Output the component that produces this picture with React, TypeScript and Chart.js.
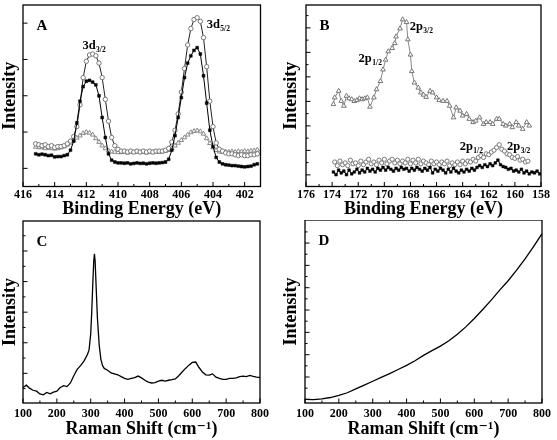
import React, { useEffect, useRef } from "react";
import { Chart, registerables } from "chart.js";

Chart.register(...registerables);

const FONT = '"Liberation Serif", "Times New Roman", "DejaVu Serif", serif';

// ---------- Panel A : XPS 3d region ----------
const aEnergy = [415.2, 415.0, 414.8, 414.6, 414.4, 414.2, 414.0, 413.8, 413.6, 413.4, 413.2, 413.0, 412.8, 412.6, 412.4, 412.2, 412.0, 411.8, 411.6, 411.4, 411.2, 411.0, 410.8, 410.6, 410.4, 410.2, 410.0, 409.8, 409.6, 409.4, 409.2, 409.0, 408.8, 408.6, 408.4, 408.2, 408.0, 407.8, 407.6, 407.4, 407.2, 407.0, 406.8, 406.6, 406.4, 406.2, 406.0, 405.8, 405.6, 405.4, 405.2, 405.0, 404.8, 404.6, 404.4, 404.2, 404.0, 403.8, 403.6, 403.4, 403.2, 403.0, 402.8, 402.6, 402.4, 402.2, 402.0, 401.8, 401.6, 401.4, 401.2];
const aCircles = [23.5, 23, 22.5, 23, 22, 22.5, 21.5, 22, 22, 22.5, 23.5, 25, 27.5, 33, 45, 60, 69, 72.5, 73, 72, 68, 60, 48, 36, 27, 22.5, 20.5, 19.5, 19.5, 19, 19.5, 19, 19.5, 19, 19.5, 19, 19.5, 19, 19.5, 19.5, 19.5, 20, 21, 24.5, 31, 40, 52, 65, 78, 87, 92, 93, 91, 82, 66, 47, 33, 24, 20.5, 19.5, 18.5, 18, 18, 17.5, 17, 17.5, 17, 17, 17.5, 17.5, 18];
const aSquares = [18, 17.5, 17.8, 17.5, 17, 17.2, 16.3, 16.5, 16.5, 17, 17.5, 20, 25, 35, 47, 55, 58, 58.5, 57.5, 56, 50, 38, 27, 18, 14.5, 13.5, 13, 13, 12.8, 13, 12.5, 12.7, 13, 12.7, 12.8, 12.5, 12.8, 13, 12.8, 13, 13.2, 13.5, 15, 20, 28, 38, 49, 60, 68, 72, 75, 76.5, 73, 61, 46, 31, 22, 16, 13.5, 12.5, 12, 11.8, 11.5, 11.5, 11.2, 11, 10.8, 11, 11.2, 12, 12.5];
const aTriangles = [21.8, 21.5, 21.5, 21, 21.2, 21, 20.8, 21, 21.5, 22, 23, 24, 25.3, 26.8, 28, 29.3, 30, 29.5, 28.5, 26.5, 24.5, 22.5, 21, 19.8, 19.2, 19, 18.8, 18.8, 19, 18.6, 19, 18.8, 19.2, 18.8, 19, 18.6, 19, 18.8, 19.2, 19, 19.2, 19.5, 20, 21, 22.5, 24, 25.5, 27, 28.5, 29.8, 30.5, 30.8, 30.3, 29, 26.5, 23.8, 21.5, 20, 19.2, 19, 19.2, 19, 19.3, 19, 19.4, 19.2, 19.5, 19.3, 19.6, 19.8, 20.2];
const aXLabels = [416, 414, 412, 410, 408, 406, 404, 402];
const aXMinor = [415, 413, 411, 409, 407, 405, 403, 401];
const aYMajor = [10, 30, 50, 70, 90];
const aYMinor: number[] = [];

// ---------- Panel B : XPS 2p region ----------
const bUpperEnergy = [173.9, 173.8, 173.5, 173.3, 173.1, 172.9, 172.7, 172.5, 172.3, 172.1, 171.9, 171.7, 171.5, 171.3, 171.1, 170.8, 170.6, 170.3, 170.1, 169.9, 169.7, 169.4, 169.2, 169.1, 168.8, 168.6, 168.3, 168.2, 168.0, 167.9, 167.7, 167.4, 167.2, 167.0, 166.8, 166.5, 166.3, 166.0, 165.8, 165.5, 165.2, 165.0, 164.7, 164.5, 164.2, 164.0, 163.7, 163.5, 163.2, 163.0, 162.7, 162.4, 162.2, 161.9, 161.7, 161.4, 161.2, 160.9, 160.7, 160.4, 160.2, 159.9, 159.7, 159.4, 159.1, 158.9];
const bUpperTriangles = [45.3, 49, 52.6, 47.1, 44.4, 49.9, 48.5, 48, 47, 47.5, 48.5, 48, 48.5, 49, 43.9, 49, 53.5, 58, 64.4, 69.8, 74.4, 76.2, 78.9, 82.6, 87, 92, 90.5, 81, 72.6, 63.5, 57.2, 54.4, 51.7, 50.5, 49.3, 52.6, 51.7, 49, 47.5, 47.1, 47.1, 44.4, 38, 43.5, 41.7, 39, 39.9, 37.2, 35.4, 36.2, 38, 34.4, 35.4, 35.4, 34.4, 37.2, 37.2, 34.4, 33.5, 34.4, 32.6, 35.4, 33.5, 31.7, 35.4, 33.5];
const bCircleEnergy = [
  173.8, 173.6, 173.4, 173.2, 173.0, 172.8, 172.6, 172.4, 172.2, 172.0,
  171.8, 171.6, 171.4, 171.2, 171.0, 170.8, 170.6, 170.4, 170.2, 170.0,
  169.8, 169.6, 169.4, 169.2, 169.0, 168.8, 168.6, 168.4, 168.2, 168.0,
  167.8, 167.6, 167.4, 167.2, 167.0, 166.8, 166.6, 166.4, 166.2, 166.0,
  165.8, 165.6, 165.4, 165.2, 165.0, 164.8, 164.6, 164.4, 164.2, 164.0,
  163.8, 163.6, 163.4, 163.2, 163.0, 162.8, 162.6, 162.4, 162.2, 162.0,
  161.8, 161.6, 161.4, 161.2, 161.0, 160.8, 160.6, 160.4, 160.2, 160.0,
  159.8, 159.6, 159.4, 159.2, 159.0,
];
const bLowerCircles = [
  13.5, 11.5, 14, 12, 13, 11.5, 14.5, 12.5, 13, 11.5,
  14, 12, 13.5, 15, 12.5, 13.5, 12, 14.5, 13, 15,
  12.5, 14, 15, 13, 14.5, 12.5, 14, 13, 15, 12.5,
  14.5, 13, 15, 12.5, 14, 13, 12, 14, 12.5, 13.5,
  12, 13.5, 12.5, 14, 11.5, 13, 12, 13.5, 12, 14,
  12.5, 14, 13.5, 15, 14, 16, 17, 16, 18, 17.5,
  19, 20, 21.5, 23, 20.5, 19.5, 18, 17.5, 16, 15.5,
  16.5, 14.5, 15, 13.5, 14,
];
const bSquareEnergy = [
  173.9, 173.7, 173.5, 173.3, 173.1, 172.9, 172.7, 172.5, 172.3, 172.1,
  171.9, 171.7, 171.5, 171.3, 171.1, 170.9, 170.7, 170.5, 170.3, 170.1,
  169.9, 169.7, 169.5, 169.3, 169.1, 168.9, 168.7, 168.5, 168.3, 168.1,
  167.9, 167.7, 167.5, 167.3, 167.1, 166.9, 166.7, 166.5, 166.3, 166.1,
  165.9, 165.7, 165.5, 165.3, 165.1, 164.9, 164.7, 164.5, 164.3, 164.1,
  163.9, 163.7, 163.5, 163.3, 163.1, 162.9, 162.7, 162.5, 162.3, 162.1,
  161.9, 161.7, 161.5, 161.3, 161.1, 160.9, 160.7, 160.5, 160.3, 160.1,
  159.9, 159.7, 159.5, 159.3, 159.1, 158.9, 158.7, 158.5, 158.3, 158.1,
];
const bLowerSquares = [
  8, 6.5, 9, 7.5, 8.5, 6.5, 9, 7, 8, 9.5,
  7.5, 9, 8, 10, 8.5, 9.5, 8, 10, 9, 10.5,
  9, 10.5, 9.5, 8.5, 10, 9, 10.5, 9.5, 10, 8.5,
  10, 9, 10.5, 9.5, 8.5, 10, 9, 10.5, 7.5, 9.5,
  8.5, 10, 9, 7.5, 9.5, 8, 10, 8.5, 7.5, 9,
  8, 9.5, 8.5, 10, 9, 10.5, 11.5, 10.5, 12, 11,
  12.5, 11.5, 13, 14.5, 12, 11, 10.5, 9.5, 10, 8.5,
  9, 8, 9.5, 7.5, 8.5, 7, 8, 7.5, 8.5, 7,
];
const bXLabels = [176, 174, 172, 170, 168, 166, 164, 162, 160, 158];
const bXMinor = [175, 173, 171, 169, 167, 165, 163, 161, 159];
const bYMajor = [6.4, 19.9, 33.4, 46.9, 60.4, 73.9, 87.4];
const bYMinor = [13.15, 26.65, 40.15, 53.65, 67.15, 80.65, 94.15];

// ---------- Panel C : Raman spectrum ----------
const cShift = [100, 110, 120, 130, 140, 150, 160, 170, 180, 190, 200, 210, 220, 230, 240, 250, 260, 270, 280, 290, 295, 300, 303, 306, 309, 311, 313, 316, 320, 325, 330, 335, 340, 350, 360, 370, 380, 390, 400, 410, 420, 430, 440, 450, 460, 470, 480, 490, 500, 510, 520, 530, 540, 550, 560, 570, 580, 590, 600, 610, 620, 630, 640, 650, 660, 670, 680, 690, 700, 710, 720, 730, 740, 750, 760, 770, 780, 790, 800];
const cIntensity = [8.5, 9.8, 8, 7, 6.5, 5, 4.5, 5.8, 5, 6, 6.5, 8.5, 9.5, 9, 11, 15, 18.5, 20.5, 23, 26.5, 29, 38, 50, 65, 78, 82, 78, 64, 46, 32, 24, 20.5, 19, 18, 16.5, 16, 15.5, 14.5, 13.5, 13, 13.5, 14, 14.8, 13.8, 12.5, 11.5, 11, 11.2, 12, 12.5, 12, 12.5, 12.8, 13.2, 15, 17, 19, 20.8, 22.3, 22.5, 19.5, 17, 15.5, 15.3, 16, 14.2, 13.5, 13, 13, 13.5, 13.5, 13.8, 14.5, 14.8, 14.5, 15.2, 14.6, 14.2, 14];
const cXLabels = [100, 200, 300, 400, 500, 600, 700, 800];
const cXMinor = [150, 250, 350, 450, 550, 650, 750];
const cYMajor = [16.3, 33.1, 49.9, 66.7, 83.5];
const cYMinor = [7.9, 24.7, 41.5, 58.3, 75.1, 91.9];

// ---------- Panel D : Raman background ----------
const dShift = [100, 125, 150, 175, 200, 225, 250, 275, 300, 325, 350, 375, 400, 425, 450, 475, 500, 525, 550, 575, 600, 625, 650, 675, 700, 725, 750, 775, 800];
const dIntensity = [2.0, 1.8, 2.2, 3.0, 4.2, 5.6, 7.7, 9.8, 11.9, 14.0, 16.1, 18.3, 20.6, 23.1, 26.0, 28.6, 31.1, 34.0, 37.6, 41.6, 46.2, 51.1, 56.2, 61.7, 66.8, 72.6, 78.8, 85.5, 92.5];
const dXLabels = [100, 200, 300, 400, 500, 600, 700, 800];
const dXMinor = [150, 250, 350, 450, 550, 650, 750];
const dYMajor = [2.0, 14.2, 26.4, 38.6, 50.8, 63.0, 75.2, 87.4];
const dYMinor = [8.1, 20.3, 32.5, 44.7, 56.9, 69.1, 81.3, 93.5];

type Note = { x: number; y: number; main: string; sub: string };

const pts = (xs: number[], ys: number[]) => xs.map((x, i) => ({ x, y: ys[i] }));

type Spec = {
  left: number; top: number; width: number; height: number;
  padding: { left: number; top: number; right: number; bottom: number };
  yWidth: number; xHeight: number; tickPad: number;
  xMin: number; xMax: number; reverse: boolean;
  xLabels: number[]; xMinor: number[]; yMajor: number[]; yMinor: number[];
  xTitle: string; letter: string; notes: Note[];
  datasets: any[];
};

const specs: Spec[] = [
  {
    left: 0, top: 0, width: 278, height: 220,
    padding: { left: 0, top: 4, right: 17.5, bottom: 0 },
    yWidth: 23, xHeight: 33.5, tickPad: 1,
    xMin: 401, xMax: 416, reverse: true,
    xLabels: aXLabels, xMinor: aXMinor, yMajor: aYMajor, yMinor: aYMinor,
    xTitle: "Binding Energy (eV)", letter: "A",
    notes: [
      { x: 412.25, y: 75.7, main: "3d", sub: "3/2" },
      { x: 404.4, y: 87.6, main: "3d", sub: "5/2" },
    ],
    datasets: [
      { data: pts(aEnergy, aSquares), borderColor: "#000", borderWidth: 1, pointStyle: "rect", pointRadius: 2, pointBackgroundColor: "#000", pointBorderColor: "#000", pointBorderWidth: 0.5 },
      { data: pts(aEnergy, aCircles), borderColor: "#222", borderWidth: 1, pointStyle: "circle", pointRadius: 2.2, pointBackgroundColor: "#fff", pointBorderColor: "#777", pointBorderWidth: 1 },
      { data: pts(aEnergy, aTriangles), borderColor: "#999", borderWidth: 1, pointStyle: "triangle", pointRadius: 2.6, pointBackgroundColor: "#fff", pointBorderColor: "#888", pointBorderWidth: 1 },
    ],
  },
  {
    left: 278, top: 0, width: 279, height: 220,
    padding: { left: 3, top: 3, right: 16, bottom: 0 },
    yWidth: 25, xHeight: 33.5, tickPad: 1,
    xMin: 158, xMax: 176, reverse: true,
    xLabels: bXLabels, xMinor: bXMinor, yMajor: bYMajor, yMinor: bYMinor,
    xTitle: "Binding Energy (eV)", letter: "B",
    notes: [
      { x: 168.06, y: 86.2, main: "2p", sub: "3/2" },
      { x: 171.97, y: 68.6, main: "2p", sub: "1/2" },
      { x: 164.23, y: 19.9, main: "2p", sub: "1/2" },
      { x: 160.61, y: 19.9, main: "2p", sub: "3/2" },
    ],
    datasets: [
      { data: pts(bUpperEnergy, bUpperTriangles), borderColor: "#888", borderWidth: 1, pointStyle: "triangle", pointRadius: 2.7, pointBackgroundColor: "#fff", pointBorderColor: "#777", pointBorderWidth: 1 },
      { data: pts(bSquareEnergy, bLowerSquares), borderColor: "#000", borderWidth: 1, pointStyle: "rect", pointRadius: 1.9, pointBackgroundColor: "#000", pointBorderColor: "#000", pointBorderWidth: 0.5 },
      { data: pts(bCircleEnergy, bLowerCircles), showLine: false, pointStyle: "circle", pointRadius: 2.1, pointBackgroundColor: "#fff", pointBorderColor: "#777", pointBorderWidth: 1 },
    ],
  },
  {
    left: 0, top: 220, width: 278, height: 220,
    padding: { left: 0, top: 1, right: 18, bottom: 0 },
    yWidth: 23, xHeight: 37, tickPad: 4,
    xMin: 100, xMax: 800, reverse: false,
    xLabels: cXLabels, xMinor: cXMinor, yMajor: cYMajor, yMinor: cYMinor,
    xTitle: "Raman Shift (cm\u207B\u00B9)", letter: "C", notes: [],
    datasets: [
      { data: pts(cShift, cIntensity), borderColor: "#000", borderWidth: 1.3, pointRadius: 0 },
    ],
  },
  {
    left: 278, top: 220, width: 279, height: 220,
    padding: { left: 3, top: 0, right: 15, bottom: 0 },
    yWidth: 24, xHeight: 37, tickPad: 4,
    xMin: 100, xMax: 800, reverse: false,
    xLabels: dXLabels, xMinor: dXMinor, yMajor: dYMajor, yMinor: dYMinor,
    xTitle: "Raman Shift (cm\u207B\u00B9)", letter: "D", notes: [],
    datasets: [
      { data: pts(dShift, dIntensity), borderColor: "#000", borderWidth: 1.3, pointRadius: 0 },
    ],
  },
];

function decorPlugin(spec: Spec) {
  return {
    id: "decor" + spec.letter,
    afterDatasetsDraw(chart: any) {
      const { ctx, chartArea: ca, scales } = chart;
      const xs = scales.x;
      const ys = scales.y;
      ctx.save();
      ctx.strokeStyle = "#000";
      ctx.lineWidth = 1;
      const tick = (x1: number, y1: number, x2: number, y2: number) => {
        ctx.beginPath();
        ctx.moveTo(x1, y1);
        ctx.lineTo(x2, y2);
        ctx.stroke();
      };
      spec.xLabels.forEach((v) => { const p = xs.getPixelForValue(v); tick(p, ca.bottom, p, ca.bottom - 4.5); });
      spec.xMinor.forEach((v) => { const p = xs.getPixelForValue(v); tick(p, ca.bottom, p, ca.bottom - 2.5); });
      spec.yMajor.forEach((v) => { const p = ys.getPixelForValue(v); tick(ca.left, p, ca.left + 4.5, p); });
      spec.yMinor.forEach((v) => { const p = ys.getPixelForValue(v); tick(ca.left, p, ca.left + 2.5, p); });
      ctx.lineWidth = 1.3;
      ctx.strokeRect(ca.left, ca.top, ca.right - ca.left, ca.bottom - ca.top);
      ctx.fillStyle = "#000";
      ctx.textBaseline = "alphabetic";
      ctx.textAlign = "left";
      ctx.font = `bold 15px ${FONT}`;
      ctx.fillText(spec.letter, ca.left + 13.5, ca.top + 25);
      spec.notes.forEach((n) => {
        const px = xs.getPixelForValue(n.x);
        const py = ys.getPixelForValue(n.y);
        ctx.font = `bold 12.5px ${FONT}`;
        ctx.fillText(n.main, px, py);
        const w = ctx.measureText(n.main).width;
        ctx.font = `bold 7.5px ${FONT}`;
        ctx.fillText(n.sub, px + w + 0.5, py + 3);
      });
      ctx.restore();
    },
  };
}

function buildConfig(spec: Spec): any {
  return {
    type: "line",
    data: { datasets: spec.datasets.map((d) => ({ tension: 0, fill: false, ...d })) },
    options: {
      animation: false,
      responsive: false,
      devicePixelRatio: 1,
      layout: { padding: spec.padding },
      plugins: { legend: { display: false }, tooltip: { enabled: false } },
      scales: {
        x: {
          type: "linear",
          min: spec.xMin,
          max: spec.xMax,
          reverse: spec.reverse,
          grid: { display: false, drawTicks: false },
          border: { display: false },
          afterBuildTicks: (s: any) => { s.ticks = spec.xLabels.map((v) => ({ value: v })); },
          afterFit: (s: any) => { s.height = spec.xHeight; },
          ticks: {
            autoSkip: false, maxRotation: 0, minRotation: 0, padding: spec.tickPad, color: "#000",
            font: { family: FONT, size: 12, weight: "bold" },
            callback: (v: any) => String(v),
          },
          title: {
            display: true, text: spec.xTitle, color: "#000",
            font: { family: FONT, size: 18, weight: "bold" },
            padding: { top: 0, bottom: 0 },
          },
        },
        y: {
          type: "linear",
          min: 0,
          max: 100,
          grid: { display: false, drawTicks: false },
          border: { display: false },
          ticks: { display: false },
          afterFit: (s: any) => { s.width = spec.yWidth; },
          title: {
            display: true, text: "Intensity", color: "#000",
            font: { family: FONT, size: 18, weight: "bold" },
            padding: { top: 0, bottom: 0 },
          },
        },
      },
    },
    plugins: [decorPlugin(spec)],
  };
}

function Panel({ spec }: { spec: Spec }) {
  const ref = useRef<HTMLCanvasElement>(null);
  useEffect(() => {
    if (!ref.current) return;
    const chart = new Chart(ref.current, buildConfig(spec));
    return () => chart.destroy();
  }, [spec]);
  return (
    <div style={{ position: "absolute", left: spec.left, top: spec.top, width: spec.width, height: spec.height }}>
      <canvas ref={ref} width={spec.width} height={spec.height} style={{ width: spec.width, height: spec.height, display: "block" }} />
    </div>
  );
}

export default function App() {
  return (
    <div style={{ position: "absolute", left: 0, top: 0, width: 557, height: 440, background: "#fff", overflow: "hidden" }}>
      {specs.map((s) => (
        <Panel key={s.letter} spec={s} />
      ))}
    </div>
  );
}
